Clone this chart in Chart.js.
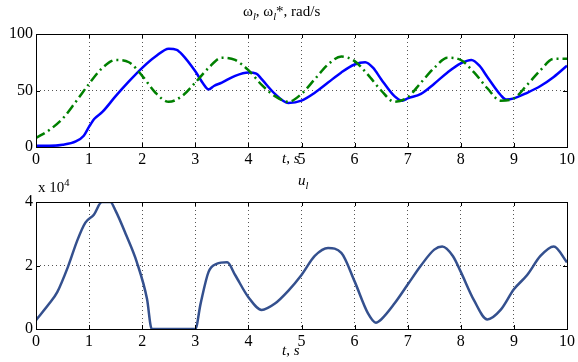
<!DOCTYPE html>
<html>
<head>
<meta charset="utf-8">
<script src="https://cdn.jsdelivr.net/npm/chart.js@4"></script>
<style>
  body { margin: 0; background: #fff; width: 578px; height: 362px; position: relative; overflow: hidden; font-family: "Liberation Serif", serif; }
  canvas { position: absolute; left: 0; }
  .lbl { position: absolute; color: #000; white-space: nowrap; }
  sub, sup { font-size: 70%; }
</style>
</head>
<body>
<canvas id="top" width="578" height="175" style="top:0"></canvas>
<canvas id="bottom" width="578" height="187" style="top:175px"></canvas>
<div class="lbl" style="left:243px; top:3px; font-size:15px;">&omega;<sub><i>l</i></sub>, &omega;<sub><i>l</i></sub>*, rad/s</div>
<div class="lbl" style="left:282px; top:150px; font-size:15px;"><i>t</i>, <i>s</i></div>
<div class="lbl" style="left:298px; top:172px; font-size:15px;"><i>u</i><sub><i>l</i></sub></div>
<div class="lbl" style="left:38px; top:177px; font-size:15px;">x 10<sup>4</sup></div>
<div class="lbl" style="left:282px; top:342px; font-size:15px;"><i>t</i>, <i>s</i></div>
<script>
// omega_l (measured), rad/s
const tOmega = [0, 0.25, 0.5, 0.75, 0.9, 1, 1.1, 1.25, 1.5, 1.75, 2, 2.25, 2.5, 2.65, 2.75, 3, 3.15, 3.25, 3.35, 3.5, 3.75, 4, 4.15, 4.25, 4.5, 4.75, 5, 5.25, 5.5, 5.75, 6, 6.2, 6.35, 6.5, 6.75, 6.9, 7, 7.25, 7.5, 7.75, 8, 8.2, 8.35, 8.5, 8.75, 8.85, 9, 9.25, 9.5, 9.75, 10];
const omega = [1, 1, 2, 5, 10, 18, 25, 31, 45, 58, 70, 80, 87, 86, 82, 67, 56, 51, 54, 57, 63, 66, 65, 60, 47, 39, 41, 48, 57, 66, 73, 75, 70, 60, 45, 41, 43, 47, 56, 66, 74, 77, 72, 62, 46, 42, 43, 48, 54, 62, 72];
// omega_l* (reference), rad/s
const tRef = [0, 0.25, 0.5, 0.75, 1, 1.25, 1.5, 1.75, 2, 2.25, 2.5, 2.75, 3, 3.25, 3.5, 3.75, 4, 4.25, 4.5, 4.75, 5, 5.25, 5.5, 5.75, 6, 6.25, 6.5, 6.75, 7, 7.25, 7.5, 7.75, 8, 8.25, 8.5, 8.75, 9, 9.25, 9.5, 9.75, 10];
const omegaRef = [8, 15, 25, 40, 56, 70, 77, 75, 63, 48, 40, 45, 57, 70, 79, 77, 68, 55, 45, 40, 47, 60, 73, 80, 76, 64, 50, 40, 44, 57, 70, 79, 77, 66, 52, 41, 43, 55, 68, 78, 78];
// u_l, x 10^4
const tU = [0, 0.25, 0.4, 0.6, 0.78, 0.93, 1.09, 1.24, 1.4, 1.5, 1.7, 1.9, 2.09, 2.18, 3, 3.1, 3.25, 3.4, 3.6, 3.75, 4, 4.25, 4.5, 4.75, 5, 5.25, 5.5, 5.75, 6, 6.25, 6.4, 6.5, 6.75, 7, 7.25, 7.5, 7.65, 7.85, 8, 8.25, 8.5, 8.75, 9, 9.25, 9.5, 9.75, 10];
const uL = [0.28, 0.8, 1.16, 1.95, 2.8, 3.35, 3.6, 4.0, 4.0, 3.72, 2.95, 2.1, 0.95, 0, 0, 0.8, 1.8, 2.05, 2.1, 1.7, 1.0, 0.6, 0.8, 1.2, 1.7, 2.3, 2.55, 2.4, 1.5, 0.5, 0.2, 0.3, 0.8, 1.4, 2.0, 2.5, 2.6, 2.3, 1.8, 0.9, 0.3, 0.6, 1.25, 1.7, 2.3, 2.6, 2.1];

const xTicks = [0, 1, 2, 3, 4, 5, 6, 7, 8, 9, 10];

function pts(xs, ys) {
    return xs.map((x, i) => ({ x: x, y: ys[i] }));
}

const boxPlugin = {
    id: 'box',
    afterDraw(chart) {
        const a = chart.chartArea;
        const ctx = chart.ctx;
        ctx.save();
        ctx.strokeStyle = '#000';
        ctx.lineWidth = 1;
        ctx.strokeRect(a.left + 0.5, a.top + 0.5, a.right - a.left, a.bottom - a.top);
        // inward tick marks
        const xs = chart.scales.x, ys = chart.scales.y;
        ctx.beginPath();
        xTicks.forEach((v) => {
            const px = Math.round(xs.getPixelForValue(v)) + 0.5;
            ctx.moveTo(px, a.top); ctx.lineTo(px, a.top + 4);
            ctx.moveTo(px, a.bottom); ctx.lineTo(px, a.bottom - 4);
        });
        ys.ticks.forEach((t) => {
            const py = Math.round(ys.getPixelForValue(t.value)) + 0.5;
            ctx.moveTo(a.left, py); ctx.lineTo(a.left + 4, py);
            ctx.moveTo(a.right, py); ctx.lineTo(a.right - 4, py);
        });
        ctx.stroke();
        ctx.restore();
    }
};

function makeOptions(yMax, yStep, padTop, xHeight) {
    return {
        responsive: false,
        animation: false,
        layout: { padding: { top: padTop, right: 8, left: 0, bottom: 0 } },
        plugins: { legend: { display: false }, tooltip: { enabled: false } },
        elements: { point: { radius: 0 } },
        scales: {
            x: {
                type: 'linear', min: 0, max: 10,
                afterBuildTicks: (s) => { s.ticks = xTicks.map((v) => ({ value: v })); },
                afterFit: (s) => { s.height = xHeight; },
                grid: { color: '#555', drawTicks: false },
                border: { display: false, dash: [1, 3] },
                ticks: { color: '#000', font: { family: 'Liberation Serif', size: 16 }, padding: 3, maxRotation: 0 }
            },
            y: {
                min: 0, max: yMax,
                ticks: { stepSize: yStep, color: '#000', font: { family: 'Liberation Serif', size: 16 }, padding: 3 },
                afterFit: (s) => { s.width = 36; },
                grid: { color: '#555', drawTicks: false },
                border: { display: false, dash: [1, 3] }
            }
        }
    };
}

new Chart(document.getElementById('top'), {
    type: 'line',
    data: {
        datasets: [{
            data: pts(tRef, omegaRef),
            borderColor: '#008000',
            borderWidth: 2.5,
            borderDash: [10, 4, 2, 4],
            cubicInterpolationMode: 'monotone'
        }, {
            data: pts(tOmega, omega),
            borderColor: '#0000ff',
            borderWidth: 2.5,
            cubicInterpolationMode: 'monotone'
        }]
    },
    options: makeOptions(100, 50, 34, 28),
    plugins: [boxPlugin]
});

new Chart(document.getElementById('bottom'), {
    type: 'line',
    data: {
        datasets: [{
            data: pts(tU, uL),
            borderColor: '#34508e',
            borderWidth: 2.5,
            cubicInterpolationMode: 'monotone'
        }]
    },
    options: makeOptions(4, 2, 27, 33),
    plugins: [boxPlugin]
});
</script>
</body>
</html>
